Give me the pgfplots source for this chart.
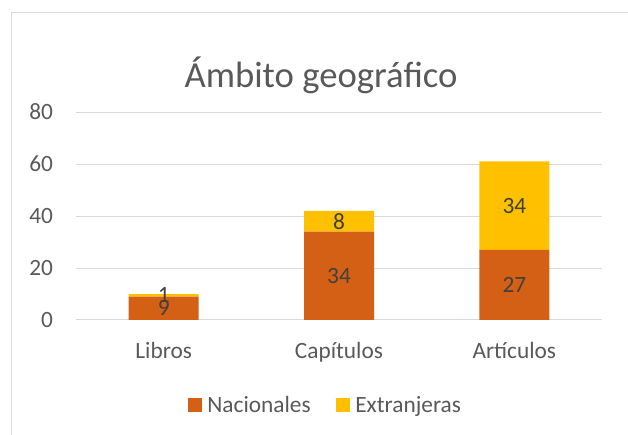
\documentclass[border=0pt]{standalone}
\usepackage{pgfplots}
\pgfplotsset{compat=1.18}
\usepackage{pgfplotstable}
\usepackage{fontspec}
\setmainfont{Carlito}
\definecolor{naranja}{RGB}{211,96,20}
\definecolor{amarillo}{RGB}{255,192,0}
\definecolor{rejilla}{RGB}{217,217,217}
\definecolor{texto}{RGB}{89,89,89}
\definecolor{etiqueta}{RGB}{64,64,64}
\pgfplotstableread{
x y
0 9
1 34
2 27
}\nacionales
\pgfplotstableread{
x y
0 1
1 8
2 34
}\extranjeras
\begin{document}
\begin{tikzpicture}[x=1pt,y=1pt]
\useasboundingbox (-57,-86.25) rectangle (414,240);
\draw[rejilla, line width=1.1pt] (-48.375,-86.25) -- (-48.375,230.625) -- (414,230.625);
\begin{axis}[
  at={(0,0)}, anchor=south west,
  scale only axis, width=394.5pt, height=156pt,
  ybar stacked, bar width=52.5pt,
  xmin=-0.5, xmax=2.5, ymin=0, ymax=80,
  xtick={0,1,2}, xticklabels={Libros,Capítulos,Artículos},
  ytick={0,20,40,60,80},
  axis line style={draw=none},
  ymajorgrids, grid style={rejilla, line width=0.75pt},
  tick style={draw=none}, major tick length=0pt,
  /pgf/number format/assume math mode=true,
  tick label style={font=\fontsize{17.5}{20}\selectfont, text=texto},
  yticklabel style={anchor=east, inner sep=0pt, xshift=-17pt},
  xticklabel style={anchor=base, inner sep=0pt, yshift=-28.5pt},
  nodes near coords,
  point meta=explicit,
  every node near coord/.append style={anchor=center, font=\fontsize{17.5}{20}\selectfont, text=etiqueta},
  legend columns=2,
  legend style={draw=none, at={(0.475,-0.409)}, anchor=center,
    font=\fontsize{17.5}{20}\selectfont, text=texto,
    /tikz/every odd column/.append style={column sep=2pt},
    /tikz/every even column/.append style={column sep=17pt}},
  legend image code/.code={\fill[#1] (0pt,-5.25pt) rectangle (10.5pt,5.25pt);},
]
\addplot[fill=naranja, draw=none] table[x=x, y=y, meta=y] {\nacionales};
\addplot[fill=amarillo, draw=none] table[x=x, y=y, meta=y] {\extranjeras};
\legend{Nacionales, Extranjeras}
\end{axis}
\node[anchor=base, font=\fontsize{27.5}{30}\selectfont, text=texto] at (183.75,174) {Ámbito geográfico};
\end{tikzpicture}
\end{document}
